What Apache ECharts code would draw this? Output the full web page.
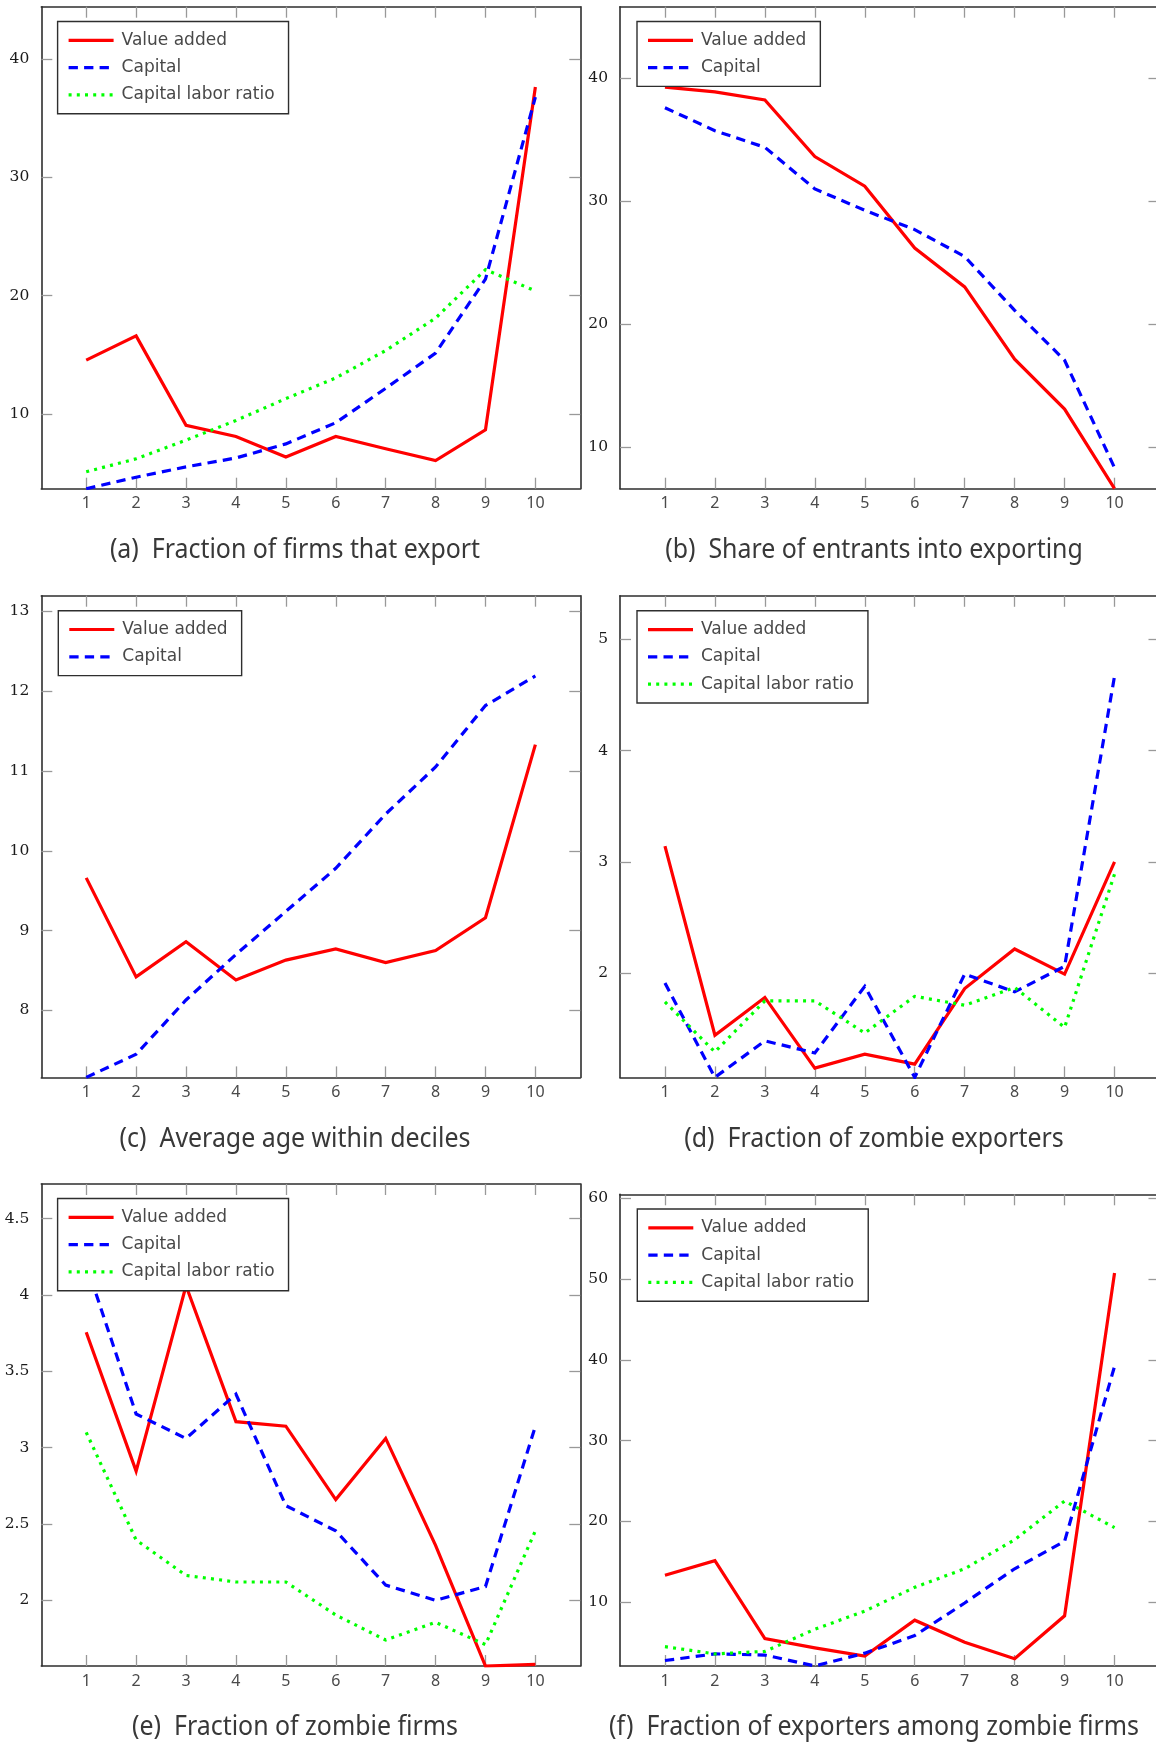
<!DOCTYPE html>
<html>
<head>
<meta charset="utf-8">
<script src="https://cdn.jsdelivr.net/npm/echarts@6/dist/echarts.min.js"></script>
<style>
  html, body { margin: 0; padding: 0; background: #fff; }
  #chart { width: 1156px; height: 1744px; }
</style>
</head>
<body>
<div id="chart"></div>
<script>
// Deciles shared by every panel
const deciles = [1, 2, 3, 4, 5, 6, 7, 8, 9, 10];

// (a) Fraction of firms that export
const exportValueAdded   = [14.55, 16.6, 9.03, 8.09, 6.36, 8.09, 7.05, 6.05, 8.65, 37.65];
const exportCapital      = [3.67, 4.64, 5.52, 6.27, 7.46, 9.25, 12.16, 15.14, 21.4, 36.8];
const exportCapitalLabor = [5.1, 6.2, 7.78, 9.44, 11.29, 13.04, 15.36, 18.1, 22.2, 20.4];
const exportTicks = [10, 20, 30, 40];

// (b) Share of entrants into exporting
const entrantsValueAdded = [39.25, 38.86, 38.2, 33.6, 31.19, 26.16, 23.0, 17.13, 13.07, 6.6];
const entrantsCapital    = [37.57, 35.7, 34.35, 30.97, 29.23, 27.66, 25.47, 21.1, 17.04, 8.3];
const entrantsTicks = [10, 20, 30, 40];

// (c) Average age within deciles
const ageValueAdded = [9.66, 8.42, 8.86, 8.38, 8.63, 8.77, 8.6, 8.75, 9.16, 11.33];
const ageCapital    = [7.16, 7.45, 8.13, 8.7, 9.24, 9.78, 10.46, 11.05, 11.82, 12.19];
const ageTicks = [8, 9, 10, 11, 12, 13];

// (d) Fraction of zombie exporters
const zombieExpValueAdded   = [3.14, 1.44, 1.78, 1.145, 1.27, 1.18, 1.86, 2.216, 1.99, 3.0];
const zombieExpCapital      = [1.91, 1.061, 1.39, 1.28, 1.88, 1.061, 1.99, 1.83, 2.06, 4.67];
const zombieExpCapitalLabor = [1.74, 1.29, 1.75, 1.75, 1.46, 1.79, 1.71, 1.87, 1.51, 2.89];
const zombieExpTicks = [2, 3, 4, 5];

// (e) Fraction of zombie firms
const zombieValueAdded   = [3.755, 2.846, 4.06, 3.17, 3.14, 2.66, 3.06, 2.36, 1.57, 1.58];
const zombieCapital      = [4.2, 3.22, 3.06, 3.35, 2.62, 2.455, 2.1, 2.0, 2.09, 3.14];
const zombieCapitalLabor = [3.1, 2.395, 2.163, 2.12, 2.12, 1.904, 1.74, 1.856, 1.71, 2.455];
const zombieTicks = [2, 2.5, 3, 3.5, 4, 4.5];

// (f) Fraction of exporters among zombie firms
const zombieShareValueAdded   = [13.3, 15.1, 5.45, 4.3, 3.27, 7.73, 5.0, 2.95, 8.27, 50.77];
const zombieShareCapital      = [2.73, 3.55, 3.41, 2.05, 3.64, 5.82, 9.86, 14.1, 17.5, 39.2];
const zombieShareCapitalLabor = [4.45, 3.55, 3.86, 6.6, 8.86, 11.8, 14.1, 17.7, 22.5, 19.2];
const zombieShareTicks = [10, 20, 30, 40, 50, 60];

// Series names and captions
const nameValueAdded = 'Value added';
const nameCapital = 'Capital';
const nameCapitalLabor = 'Capital labor ratio';

const panels = [
  { caption: '(a)  Fraction of firms that export', ticks: exportTicks,
    series: [[nameValueAdded, exportValueAdded], [nameCapital, exportCapital], [nameCapitalLabor, exportCapitalLabor]] },
  { caption: '(b)  Share of entrants into exporting', ticks: entrantsTicks,
    series: [[nameValueAdded, entrantsValueAdded], [nameCapital, entrantsCapital]] },
  { caption: '(c)  Average age within deciles', ticks: ageTicks,
    series: [[nameValueAdded, ageValueAdded], [nameCapital, ageCapital]] },
  { caption: '(d)  Fraction of zombie exporters', ticks: zombieExpTicks,
    series: [[nameValueAdded, zombieExpValueAdded], [nameCapital, zombieExpCapital], [nameCapitalLabor, zombieExpCapitalLabor]] },
  { caption: '(e)  Fraction of zombie firms', ticks: zombieTicks,
    series: [[nameValueAdded, zombieValueAdded], [nameCapital, zombieCapital], [nameCapitalLabor, zombieCapitalLabor]] },
  { caption: '(f)  Fraction of exporters among zombie firms', ticks: zombieShareTicks,
    series: [[nameValueAdded, zombieShareValueAdded], [nameCapital, zombieShareCapital], [nameCapitalLabor, zombieShareCapitalLabor]] }
];

// Page layout: plot boxes, legend corners and caption anchors
const layout = [
  { grid: [41.3, 6.7, 539, 482],       legend: [57.6, 21.5],   caption: [295, 550.5] },
  { grid: [620, 6.7, 539.5, 482],      legend: [637, 21.5],    caption: [874, 550.5] },
  { grid: [41.3, 595.7, 539, 481.7],   legend: [58.3, 610.7],  caption: [295, 1139.5] },
  { grid: [620, 595.8, 539.5, 481.6],  legend: [637, 610.8],   caption: [874, 1139.5] },
  { grid: [41.3, 1184, 539, 482],      legend: [57.6, 1198.5], caption: [295, 1727] },
  { grid: [620, 1194.3, 539.5, 471.7], legend: [637.3, 1209],  caption: [874, 1727] }
];

const styles = {};
styles[nameValueAdded]   = { color: '#ff0000', type: 'solid' };
styles[nameCapital]      = { color: '#0000ff', type: [9.3, 6.2] };
styles[nameCapitalLabor] = { color: '#00ff00', type: [3, 5.2] };

const frameColor = '#2e2e2e';
const tickColor = '#999';
const xMin = 0.1, xMax = 10.9;

const grid = [], xAxis = [], yAxis = [], series = [], legend = [], graphic = [];

panels.forEach((p, i) => {
  const L = layout[i];
  grid.push({ left: L.grid[0], top: L.grid[1], width: L.grid[2], height: L.grid[3],
              containLabel: false, outerBoundsMode: 'none' });

  // vertical extent: from the lowest value up to 20% above the highest
  const all = [].concat(...p.series.map(s => s[1]));
  const lo = Math.min(...all), hi = Math.max(...all);
  const yMin = lo, yMax = hi + 0.2 * (hi - lo);

  const frame = { show: true, onZero: false, lineStyle: { color: frameColor, width: 1.6 } };
  const tick = (vals) => ({ show: true, inside: true, length: 11, customValues: vals,
                             lineStyle: { color: tickColor, width: 1.3 } });

  xAxis.push({ type: 'value', gridIndex: i, position: 'bottom', min: xMin, max: xMax,
    axisLine: frame, axisTick: tick(deciles), splitLine: { show: false },
    axisLabel: { customValues: deciles, fontFamily: 'Noto Sans', fontSize: 16, color: '#4a4a4a', margin: 7 } });
  xAxis.push({ type: 'value', gridIndex: i, position: 'top', min: xMin, max: xMax,
    axisLine: frame, axisTick: tick(deciles), splitLine: { show: false }, axisLabel: { show: false } });

  yAxis.push({ type: 'value', gridIndex: i, position: 'left', min: yMin, max: yMax,
    axisLine: frame, axisTick: tick(p.ticks), splitLine: { show: false },
    axisLabel: { customValues: p.ticks, fontFamily: 'DejaVu Serif', fontSize: 15.5, color: '#1a1a1a', margin: 12 } });
  yAxis.push({ type: 'value', gridIndex: i, position: 'right', min: yMin, max: yMax,
    axisLine: frame, axisTick: tick(p.ticks), splitLine: { show: false }, axisLabel: { show: false } });

  p.series.forEach(([name, vals]) => {
    const st = styles[name];
    series.push({
      type: 'line', name, xAxisIndex: 2 * i, yAxisIndex: 2 * i,
      data: deciles.map((d, k) => [d, vals[k]]),
      symbol: 'none', showSymbol: false, silent: true, animation: false, clip: true,
      itemStyle: { color: st.color },
      lineStyle: { color: st.color, width: 3.2, type: st.type, cap: 'butt', join: 'miter', miterLimit: 10 },
      emphasis: { disabled: true }
    });
  });

  legend.push({
    orient: 'vertical', left: L.legend[0], top: L.legend[1],
    data: p.series.map(s => s[0]),
    padding: [10.3, 14, 10.3, 9.4], itemGap: 10.3, itemWidth: 45, itemHeight: 16,
    backgroundColor: '#fff', borderColor: frameColor, borderWidth: 1.4, borderRadius: 0,
    selectedMode: false,
    itemStyle: { opacity: 0, borderWidth: 0 },
    lineStyle: { width: 3.2, opacity: 1 },
    textStyle: { fontFamily: 'DejaVu Sans', fontSize: 17, color: '#484848', lineHeight: 16, padding: [0, 0, 0, 3] }
  });

  graphic.push({
    type: 'text', x: L.caption[0], y: L.caption[1], scaleX: 0.94, silent: true,
    style: { text: p.caption, fontFamily: 'Noto Sans', fontSize: 26.5, fill: '#383838',
             align: 'center', verticalAlign: 'middle', textAlign: 'center', textVerticalAlign: 'middle' }
  });
});

const chart = echarts.init(document.getElementById('chart'), null, { renderer: 'canvas' });
chart.setOption({
  animation: false,
  backgroundColor: '#fff',
  grid, xAxis, yAxis, series, legend, graphic
});
</script>
</body>
</html>
